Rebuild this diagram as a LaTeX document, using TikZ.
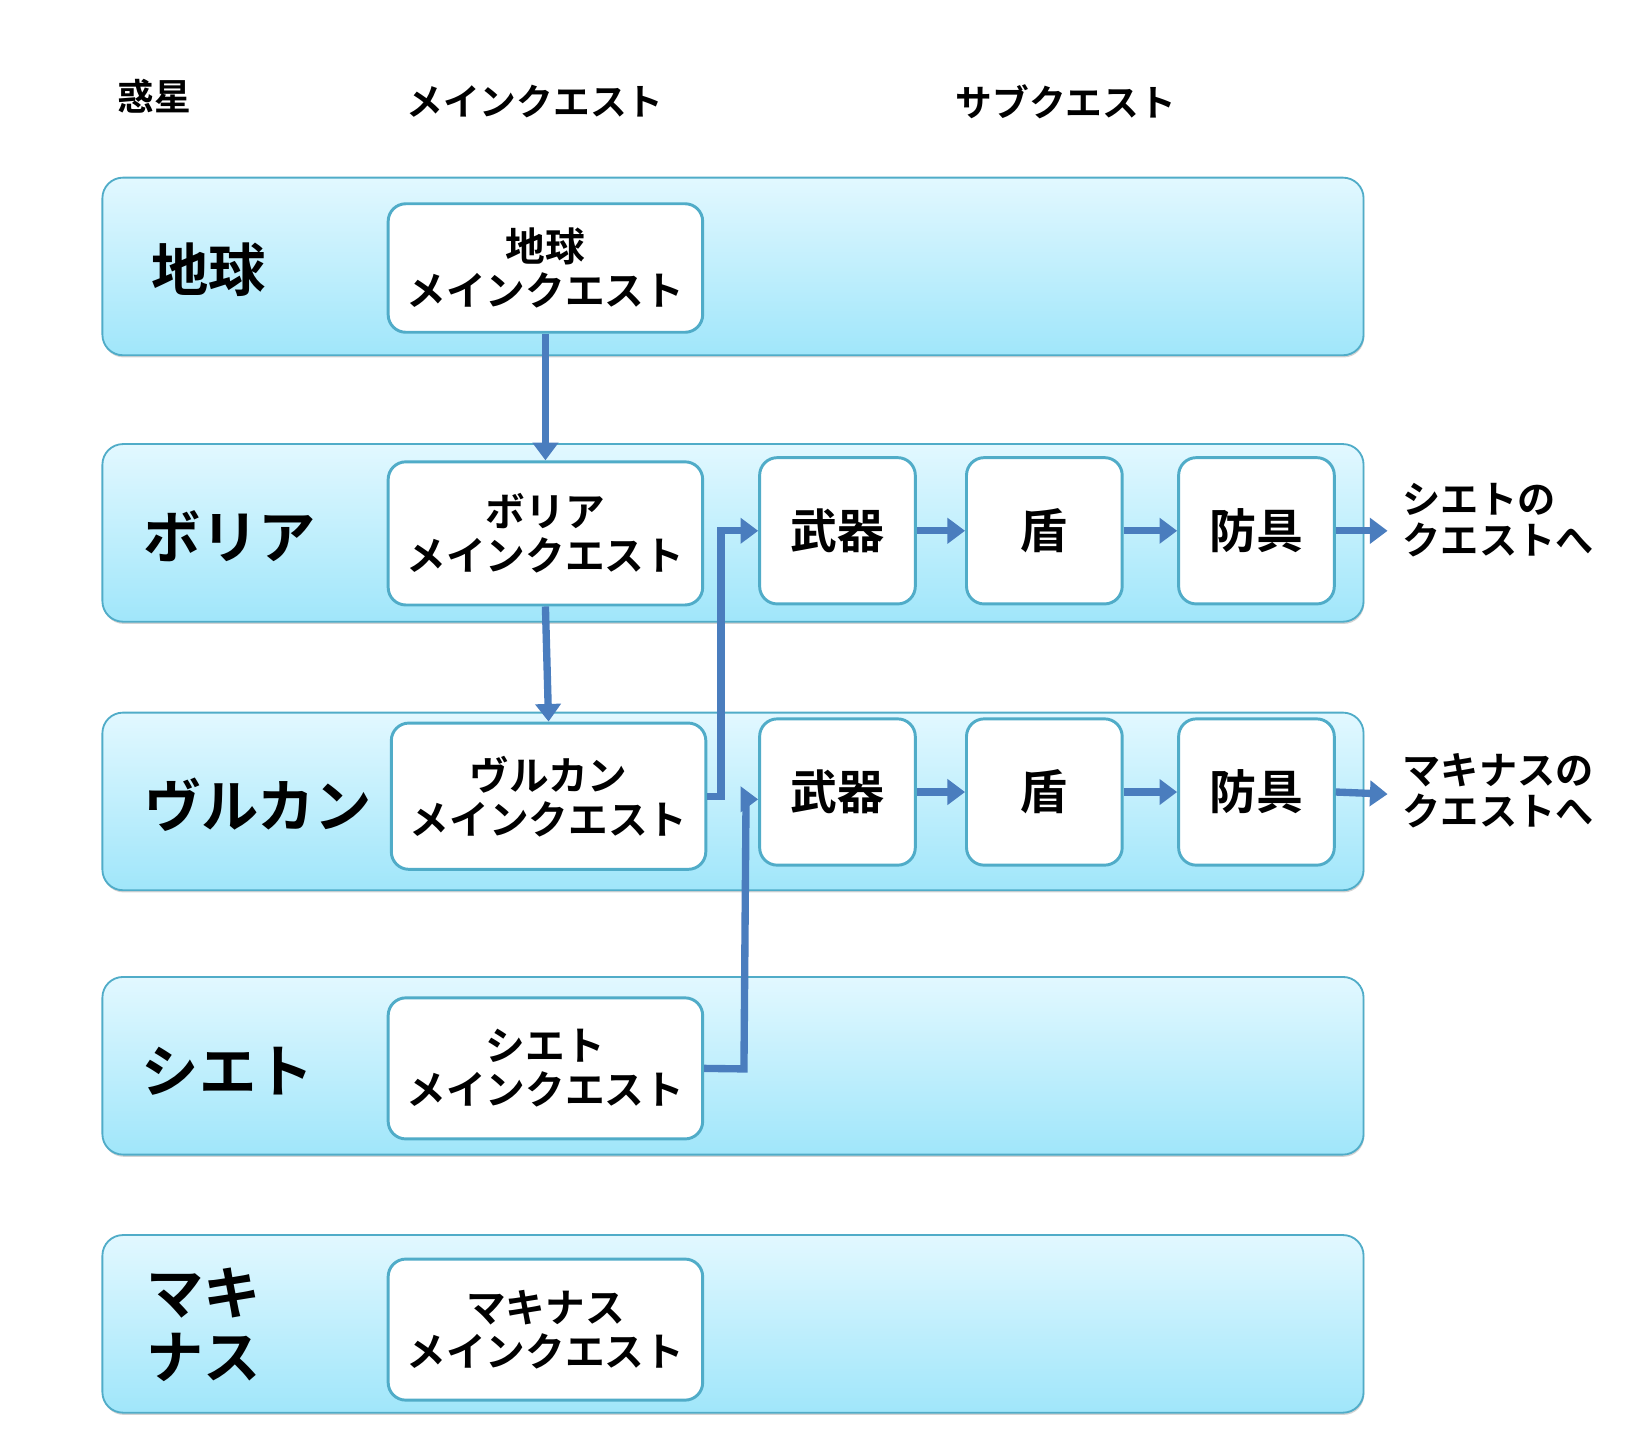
\documentclass[tikz,border=0pt]{standalone}
\usepackage{fontspec}
\newfontfamily\jp{Noto Sans CJK JP}[BoldFont={* Bold}]
\usetikzlibrary{shadows,arrows.meta}
\definecolor{lb}{RGB}{80,172,200}
\definecolor{ltop}{RGB}{226,248,255}
\definecolor{lbot}{RGB}{160,230,250}
\definecolor{ar}{RGB}{74,125,190}
\begin{document}
\begin{tikzpicture}[x=0.05cm,y=-0.05cm,
 lane/.style={draw=lb,line width=2.5pt,rounded corners=28,top color=ltop,bottom color=lbot,drop shadow={shadow xshift=1pt,shadow yshift=-3pt,opacity=0.35}},
 box/.style={draw=lb,line width=4pt,rounded corners=24,fill=white,align=center,font=\jp\bfseries\fontsize{54}{60}\selectfont,inner sep=0pt},
 sub/.style={box,minimum width=149*0.05cm,minimum height=140*0.05cm,font=\jp\bfseries\fontsize{64}{70}\selectfont},
 mb/.style={box,minimum width=301*0.05cm},
 lab/.style={font=\jp\bfseries\fontsize{78}{88}\selectfont,align=left},
 hd/.style={font=\jp\bfseries\fontsize{50}{56}\selectfont},
 rt/.style={font=\jp\bfseries\fontsize{52}{56}\selectfont,align=left},
 arr/.style={draw=ar,line width=10pt,-{Triangle[length=24pt,width=34pt]}}]
\useasboundingbox (0,0) rectangle (1560,1391);
\node[hd] (h1) at (148,92) {惑星};
\node[hd] (h2) at (512,97) {メインクエスト};
\node[hd] (h3) at (1020,97) {サブクエスト};
\foreach \a/\b in {170/340,425/595,682/852,935/1105,1182/1352}
  \path[lane] (98,\a) rectangle (1305,\b);
\node[lab] (l1) at (200,258) {地球};
\node[lab] (l2) at (220,513) {ボリア};
\node[lab] (l3) at (247,770) {ヴルカン};
\node[lab] (l4) at (218,1025) {シエト};
\node[lab] (l5) at (195,1268) {マキ\\ナス};
\node[mb,minimum height=123*0.05cm] (m1) at (522,256.5) {地球\\メインクエスト};
\node[mb,minimum height=137*0.05cm] (m2) at (522,510.5) {ボリア\\メインクエスト};
\node[mb,minimum height=140*0.05cm] (m3) at (525,762) {ヴルカン\\メインクエスト};
\node[mb,minimum height=135*0.05cm] (m4) at (522,1022.5) {シエト\\メインクエスト};
\node[mb,minimum height=135*0.05cm] (m5) at (522,1272.5) {マキナス\\メインクエスト};
\node[sub] (a1) at (801.5,508) {武器};
\node[sub] (b1) at (999.5,508) {盾};
\node[sub] (c1) at (1202.5,508) {防具};
\node[sub] (a2) at (801.5,758) {武器};
\node[sub] (b2) at (999.5,758) {盾};
\node[sub] (c2) at (1202.5,758) {防具};
\node[rt,anchor=west] (r1) at (1340,498) {シエトの\\クエストへ};
\node[rt,anchor=west] (r2) at (1340,757) {マキナスの\\クエストへ};
\coordinate (e1) at (1328,508);
\coordinate (e2) at (1328,760);
\draw[arr] (m1.south) -- (m2.north);
\draw[arr] (m2.south) -- (m3.north);
\draw[arr] (m3.east) -- (690,762) |- (a1.west);
\draw[arr] (m4.east) -- (712,1023) -- (714,765) -- (a2.west|-0,765);
\draw[arr] (a1) -- (b1); \draw[arr] (b1) -- (c1); \draw[arr] (c1.east) -- (e1);
\draw[arr] (a2) -- (b2); \draw[arr] (b2) -- (c2); \draw[arr] (c2.east) -- (e2);
\end{tikzpicture}
\end{document}
